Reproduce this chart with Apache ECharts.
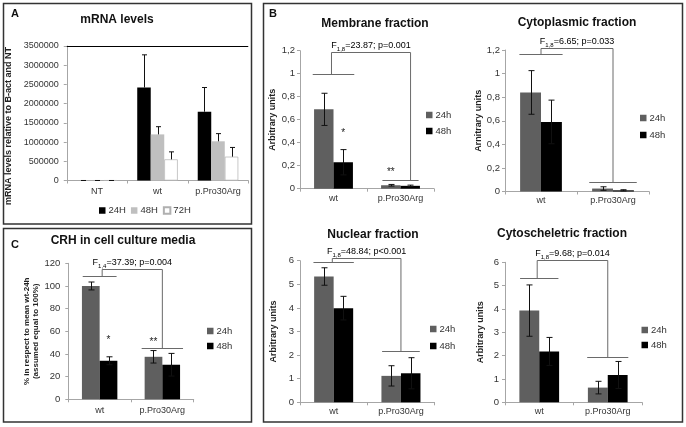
<!DOCTYPE html>
<html><head><meta charset="utf-8">
<script src="https://cdn.jsdelivr.net/npm/echarts@6/dist/echarts.min.js"></script>
<style>html,body{margin:0;padding:0;background:#fff}#c{width:686px;height:427px}</style>
</head><body><div id="c"></div>
<script>
// ---------- DATA ----------
// Panel A: mRNA levels
const catsA = ['NT', 'wt', 'p.Pro30Arg'];
const namesA = ['24H', '48H', '72H'];
const mrna24 = [1, 2420000, 1790000];
const mrna24Up = [0, 850000, 630000];
const mrna48 = [1, 1200000, 1020000];
const mrna48Up = [0, 200000, 200000];
const mrna72 = [1, 550000, 620000];
const mrna72Up = [0, 195000, 240000];
const ticksA = ['0', '500000', '1000000', '1500000', '2000000', '2500000', '3000000', '3500000'];

// Panels B & C
const catsB = ['wt', 'p.Pro30Arg'];
const namesB = ['24h', '48h'];
const mem24 = [0.69, 0.030], mem24Err = [0.14, 0.007];
const mem48 = [0.23, 0.025], mem48Err = [0.11, 0.006];
const cyt24 = [0.84, 0.025], cyt24Err = [0.185, 0.015];
const cyt48 = [0.59, 0.010], cyt48Err = [0.185, 0.005];
const nuc24 = [5.33, 1.12], nuc24Err = [0.37, 0.43];
const nuc48 = [3.99, 1.23], nuc48Err = [0.50, 0.66];
const csk24 = [3.93, 0.63], csk24Err = [1.10, 0.27];
const csk48 = [2.18, 1.17], csk48Err = [0.60, 0.58];
const crh24 = [100, 37.5], crh24Err = [3.5, 5.5];
const crh48 = [34, 30.5], crh48Err = [3.5, 10];
const ticksFrac = ['0', '0,2', '0,4', '0,6', '0,8', '1', '1,2'];
const ticksSix = ['0', '1', '2', '3', '4', '5', '6'];
const ticksPct = ['0', '20', '40', '60', '80', '100', '120'];

// Statistics annotations
const statMem = ['1,8', '=23.87; p=0.001'];
const statCyt = ['1,8', '=6.65; p=0.033'];
const statNuc = ['1,8', '=48.84; p<0.001'];
const statCsk = ['1,8', '=9.68; p=0.014'];
const statCrh = ['1,4', '=37.39; p=0.004'];

// ---------- STYLE / LAYOUT ----------
const FONT = '"Liberation Sans", Arial, sans-serif';
const C24 = '#5f5f5f', C48 = '#000000';
const TXT = '#333333', AX = '#a6a6a6';

const panels = [
  { grid: { left: 66.75, top: 46, width: 181.5, height: 134.5 }, gap: 0.33 },   // A
  { grid: { left: 300, top: 50.7, width: 134, height: 138 }, gap: 0.42 },       // membrane
  { grid: { left: 505, top: 50, width: 144, height: 141.5 }, gap: 0.42 },       // cytoplasmic
  { grid: { left: 300, top: 260.7, width: 134.6, height: 141.6 }, gap: 0.42 },  // nuclear
  { grid: { left: 505, top: 262.3, width: 137, height: 140 }, gap: 0.42 },      // cytoskeletal
  { grid: { left: 68.3, top: 263.3, width: 125.4, height: 136 }, gap: 0.435 }   // C
];

function yAxisCfg(gi, max, interval, labels, name, nameGap, labelSize, margin) {
  return {
    type: 'value', gridIndex: gi, min: 0, max: max, interval: interval,
    name: name, nameLocation: 'middle', nameGap: nameGap, nameRotate: 90,
    nameTextStyle: { fontFamily: FONT, fontWeight: 'bold', fontSize: gi === 5 ? 8 : 9, color: '#222', lineHeight: 9 },
    axisLine: { show: true, lineStyle: { color: AX, width: 1 } },
    axisTick: { show: true, length: 3, lineStyle: { color: AX } },
    splitLine: { show: false },
    axisLabel: { fontFamily: FONT, fontSize: labelSize, color: TXT, margin: margin,
      formatter: v => labels[Math.round(v / interval)] }
  };
}
function xAxisCfg(gi, cats, margin) {
  return {
    type: 'category', gridIndex: gi, data: cats,
    axisLine: { show: true, lineStyle: { color: AX, width: 1 } },
    axisTick: { show: true, length: 3, lineStyle: { color: AX } },
    axisLabel: { fontFamily: FONT, fontSize: 9, color: TXT, margin: margin }
  };
}

function bar(gi, name, data, color, extra) {
  return Object.assign({
    type: 'bar', name: name, xAxisIndex: gi, yAxisIndex: gi, data: data,
    barGap: '0%', barCategoryGap: (panels[gi].gap * 100) + '%',
    itemStyle: { color: color }, silent: true, z: 2
  }, extra || {});
}

// error bars: rows [cat, value, low, high, seriesIdx]
function errSeries(gi, n, rows, both, cap) {
  const gap = panels[gi].gap;
  return {
    type: 'custom', xAxisIndex: gi, yAxisIndex: gi, data: rows, silent: true, z: 4, clip: false,
    renderItem: function (params, api) {
      const band = api.size([1, 0])[0];
      const bw = band * (1 - gap) / n;
      const cat = api.value(0), si = api.value(4);
      const cx = Math.round(api.coord([cat, 0])[0] - n * bw / 2 + (si + 0.5) * bw) + 0.5;
      const yHi = api.coord([cat, api.value(3)])[1];
      const yLo = api.coord([cat, api.value(2)])[1];
      const st = { stroke: '#111', lineWidth: 1 };
      const ch = [
        { type: 'line', shape: { x1: cx, y1: yLo, x2: cx, y2: yHi }, style: st },
        { type: 'line', shape: { x1: cx - cap, y1: yHi, x2: cx + cap, y2: yHi }, style: st }
      ];
      if (both) ch.push({ type: 'line', shape: { x1: cx - cap, y1: yLo, x2: cx + cap, y2: yLo }, style: st });
      return { type: 'group', children: ch };
    }
  };
}
function errRows(vals, errs, si, both) {
  return vals.map((v, i) => [i, v, both ? v - errs[i] : v, v + errs[i], si]);
}

// bracket annotation: positions in data coords of the panel
function bracket(gi, b, stat, letter) {
  return {
    type: 'custom', xAxisIndex: gi, yAxisIndex: gi, data: [[0, b.top]], silent: true, z: 5, clip: false,
    renderItem: function (params, api) {
      const band = api.size([1, 0])[0];
      const p0 = api.coord([0, b.left]), p1 = api.coord([1, b.right]);
      const yT = api.coord([0, b.top])[1];
      const xl = p0[0] + b.lv * band, xr = p1[0] + b.rv * band;
      const y0 = Math.round(p0[1]) + 0.5, y1 = Math.round(p1[1]) + 0.5, yt = Math.round(yT) + 0.5;
      const st = { stroke: '#6a6a6a', lineWidth: 1, fill: null };
      return { type: 'group', children: [
        { type: 'line', shape: { x1: p0[0] - b.lh * band, y1: y0, x2: p0[0] + b.lh * band, y2: y0 }, style: st },
        { type: 'polyline', shape: { points: [[xl, y0], [xl, yt], [xr, yt], [xr, y1]] }, style: st },
        { type: 'line', shape: { x1: p1[0] - b.rh * band, y1: y1, x2: p1[0] + b.rh * band, y2: y1 }, style: st },
        { type: 'text', style: {
            text: '{a|' + letter + '}{s|' + stat[0] + '}{a|' + stat[1] + '}',
            rich: { a: { fontFamily: FONT, fontSize: 9, color: '#222', lineHeight: 12, verticalAlign: 'middle' },
                    s: { fontFamily: FONT, fontSize: 6, color: '#222', lineHeight: 12, verticalAlign: 'bottom' } },
            x: (xl + xr) / 2 + (b.tx || 0), y: yt - 0.5, align: 'center', verticalAlign: 'bottom' } }
      ] };
    }
  };
}

// significance stars: rows [cat, yValue, seriesIdx, label]
function stars(gi, n, rows) {
  const gap = panels[gi].gap;
  return {
    type: 'custom', xAxisIndex: gi, yAxisIndex: gi, data: rows.map(r => r.slice(0, 3)), silent: true, z: 5, clip: false,
    renderItem: function (params, api) {
      const band = api.size([1, 0])[0];
      const bw = band * (1 - gap) / n;
      const cat = api.value(0), si = api.value(2);
      const p = api.coord([cat, api.value(1)]);
      const cx = p[0] - n * bw / 2 + (si + 0.5) * bw;
      return { type: 'text', style: { text: rows[params.dataIndex][3], x: cx, y: p[1],
        align: 'center', verticalAlign: 'middle', font: '10px ' + FONT, fill: '#222' } };
    }
  };
}

const series = [];
// Panel A
series.push(bar(0, namesA[0], mrna24, '#000', {
  markLine: { silent: true, symbol: 'none', label: { show: false }, animation: false,
    lineStyle: { color: '#000', width: 1, type: 'solid' }, data: [{ yAxis: 3500000 }] } }));
series.push(bar(0, namesA[1], mrna48, '#bfbfbf'));
series.push(bar(0, namesA[2], mrna72, '#ffffff', { itemStyle: { color: '#fff', borderColor: '#b0b0b0', borderWidth: 0.7 } }));
series.push(errSeries(0, 3, [].concat(errRows(mrna24, mrna24Up, 0, false), errRows(mrna48, mrna48Up, 1, false), errRows(mrna72, mrna72Up, 2, false)), false, 2.5));

const bPanels = [
  { gi: 1, d24: mem24, e24: mem24Err, d48: mem48, e48: mem48Err, stat: statMem,
    br: { left: 0.995, top: 1.19, right: 0.075, lh: 0.31, rh: 0.27, lv: -0.03, rv: 0.15 } },
  { gi: 2, d24: cyt24, e24: cyt24Err, d48: cyt48, e48: cyt48Err, stat: statCyt,
    br: { left: 1.165, top: 1.22, right: 0.083, lh: 0.3, rh: 0.33, lv: 0, rv: 0 } },
  { gi: 3, d24: nuc24, e24: nuc24Err, d48: nuc48, e48: nuc48Err, stat: statNuc,
    br: { left: 5.93, top: 6.13, right: 2.17, lh: 0.3, rh: 0.28, lv: -0.02, rv: 0 } },
  { gi: 4, d24: csk24, e24: csk24Err, d48: csk48, e48: csk48Err, stat: statCsk,
    br: { left: 5.34, top: 6.1, right: 1.95, lh: 0.28, rh: 0.3, lv: -0.03, rv: 0 } },
  { gi: 5, d24: crh24, e24: crh24Err, d48: crh48, e48: crh48Err, stat: statCrh,
    br: { left: 109, top: 115, right: 45.5, lh: 0.27, rh: 0.33, lv: 0.04, rv: 0 } }
];
bPanels.forEach(p => {
  series.push(bar(p.gi, namesB[0], p.d24, C24));
  series.push(bar(p.gi, namesB[1], p.d48, C48));
  series.push(errSeries(p.gi, 2, [].concat(errRows(p.d24, p.e24, 0, true), errRows(p.d48, p.e48, 1, true)), true, 3));
  series.push(bracket(p.gi, p.br, p.stat, 'F'));
});
series.push(stars(1, 2, [[0, 0.48, 1, '*'], [1, 0.145, 0, '**']]));
series.push(stars(5, 2, [[0, 52.3, 1, '*'], [1, 50.5, 0, '**']]));

const legendBase = (items, left, top, orient, gap) => ({
  data: items, left: left, top: top, orient: orient, itemGap: gap, padding: 0,
  icon: 'rect', itemWidth: 6.5, itemHeight: 6.5, selectedMode: false,
  textStyle: { fontFamily: FONT, fontSize: 9.5, color: TXT, lineHeight: 11, padding: [0, 0, 0, -2] }
});

const option = {
  animation: false,
  backgroundColor: '#fff',
  grid: panels.map(p => Object.assign({ containLabel: false }, p.grid)),
  xAxis: [
    xAxisCfg(0, catsA, 7), xAxisCfg(1, catsB, 5), xAxisCfg(2, catsB, 5),
    xAxisCfg(3, catsB, 5), xAxisCfg(4, catsB, 5), xAxisCfg(5, catsB, 7)
  ],
  yAxis: [
    yAxisCfg(0, 3500000, 500000, ticksA, '', 30, 9, 8),
    yAxisCfg(1, 1.2, 0.2, ticksFrac, 'Arbitrary units', 23, 9.5, 5),
    yAxisCfg(2, 1.2, 0.2, ticksFrac, 'Arnitrary units', 15, 9.5, 5),
    yAxisCfg(3, 6, 1, ticksSix, 'Arbitrary units', 22, 9.5, 6),
    yAxisCfg(4, 6, 1, ticksSix, 'Arbitrary units', 20, 9.5, 6),
    yAxisCfg(5, 120, 20, ticksPct, '% in respect to mean wt-24h\n(assumed equal to 100%)', 24, 9.5, 8)
  ],
  legend: [
    legendBase(namesA, 99, 205, 'horizontal', 5),
    legendBase(namesB, 426, 109.5, 'vertical', 5),
    legendBase(namesB, 640, 112.5, 'vertical', 6),
    legendBase(namesB, 430, 323.5, 'vertical', 6),
    legendBase(namesB, 641.5, 324.5, 'vertical', 4),
    legendBase(namesB, 207, 325.5, 'vertical', 4)
  ],
  series: series,
  graphic: [
    { type: 'rect', shape: { x: 3.5, y: 3.5, width: 248, height: 220.5 }, style: { fill: null, stroke: '#333', lineWidth: 1.5 }, silent: true },
    { type: 'rect', shape: { x: 3.5, y: 228.5, width: 248, height: 193.5 }, style: { fill: null, stroke: '#333', lineWidth: 1.5 }, silent: true },
    { type: 'rect', shape: { x: 263.5, y: 3.5, width: 419, height: 418.5 }, style: { fill: null, stroke: '#333', lineWidth: 1.5 }, silent: true },
    { type: 'text', x: 15, y: 14, style: { text: 'A', font: 'bold 11px ' + FONT, fill: '#111', textAlign: 'center', textVerticalAlign: 'middle' } },
    { type: 'text', x: 273, y: 14, style: { text: 'B', font: 'bold 11px ' + FONT, fill: '#111', textAlign: 'center', textVerticalAlign: 'middle' } },
    { type: 'text', x: 15, y: 245, style: { text: 'C', font: 'bold 11px ' + FONT, fill: '#111', textAlign: 'center', textVerticalAlign: 'middle' } },
    { type: 'text', x: 117, y: 20, style: { text: 'mRNA levels', font: 'bold 12px ' + FONT, fill: '#111', textAlign: 'center', textVerticalAlign: 'middle' } },
    { type: 'text', x: 123, y: 241, style: { text: 'CRH in cell culture media', font: 'bold 12px ' + FONT, fill: '#111', textAlign: 'center', textVerticalAlign: 'middle' } },
    { type: 'text', x: 375, y: 24, style: { text: 'Membrane fraction', font: 'bold 12px ' + FONT, fill: '#111', textAlign: 'center', textVerticalAlign: 'middle' } },
    { type: 'text', x: 577, y: 23, style: { text: 'Cytoplasmic fraction', font: 'bold 12px ' + FONT, fill: '#111', textAlign: 'center', textVerticalAlign: 'middle' } },
    { type: 'text', x: 373, y: 235, style: { text: 'Nuclear fraction', font: 'bold 12px ' + FONT, fill: '#111', textAlign: 'center', textVerticalAlign: 'middle' } },
    { type: 'text', x: 562, y: 234, style: { text: 'Cytoscheletric fraction', font: 'bold 12px ' + FONT, fill: '#111', textAlign: 'center', textVerticalAlign: 'middle' } },
    { type: 'text', x: 9, y: 126, rotation: Math.PI / 2, style: { text: 'mRNA levels relative to B-act and NT', font: 'bold 9px ' + FONT, fill: '#222', textAlign: 'center', textVerticalAlign: 'middle' } }
  ]
};
const chart = echarts.init(document.getElementById('c'), null, { renderer: 'canvas' });
chart.setOption(option);
</script></body></html>
